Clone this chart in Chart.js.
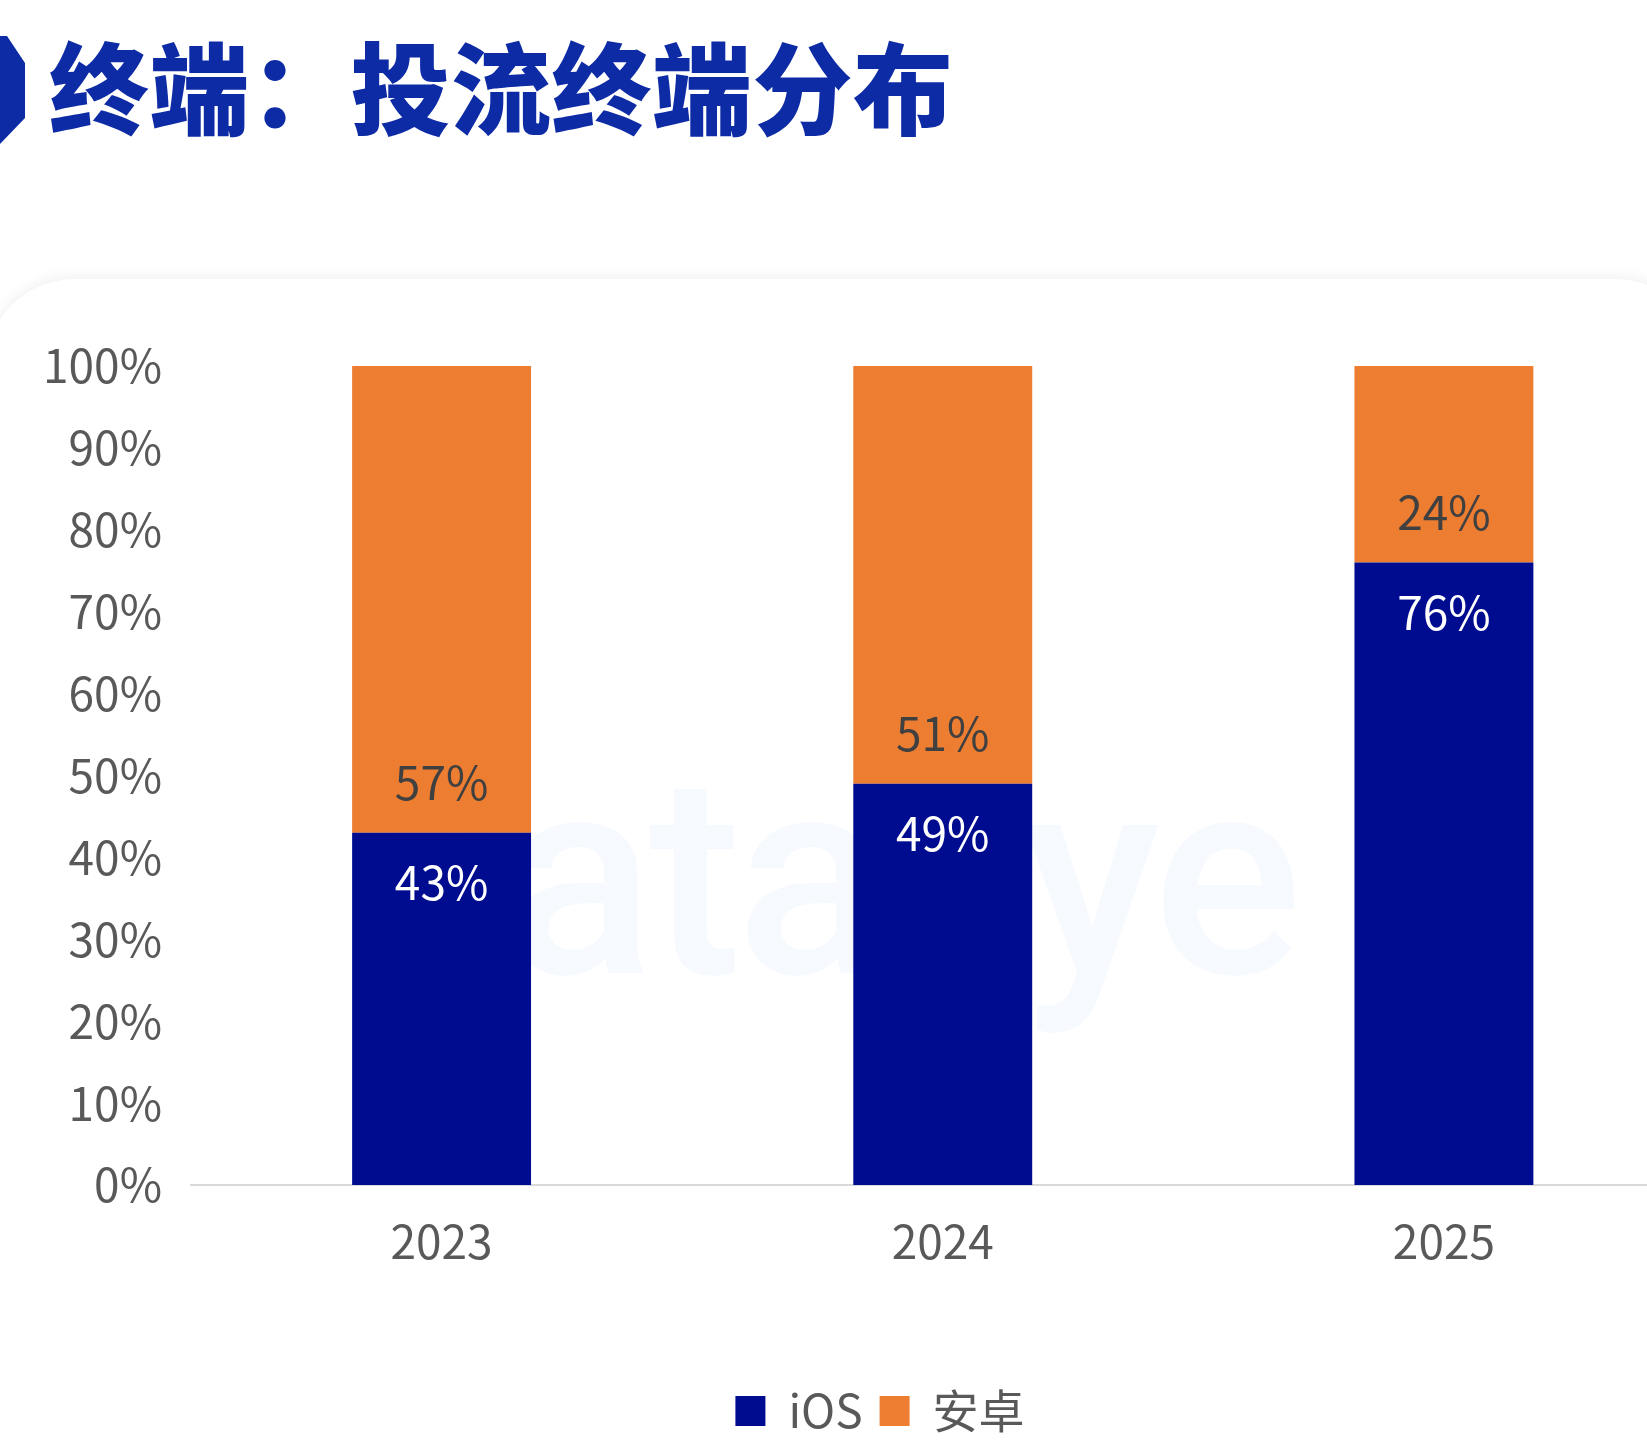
<!DOCTYPE html>
<html lang="zh-CN">
<head>
<meta charset="utf-8">
<title>终端：投流终端分布</title>
<script src="https://cdn.jsdelivr.net/npm/chart.js@4.4.1/dist/chart.umd.min.js"></script>
<style>
  html, body { margin: 0; padding: 0; width: 1647px; height: 1455px; overflow: hidden; background: #fff; }
  .mark { position: absolute; left: 0; top: 36px; width: 25px; height: 108px; background: #0e2ba6;
          clip-path: polygon(0 0, 28% 0, 100% 25%, 100% 76%, 0 100%); }
  .title { position: absolute; left: 49px; top: 34px; margin: 0; white-space: nowrap;
           font: 900 100px/1 'Noto Sans CJK SC', sans-serif; color: #0e2ba6; letter-spacing: 0.5px; }
  .card { position: absolute; left: -15px; top: 279px; width: 1720px; height: 1300px;
          border-radius: 90px; background: #fff; box-shadow: 0 -3px 14px rgba(0,0,0,0.06); }
  .watermark { position: absolute; left: 352px; top: 737px;
               font: 500 280px/1 Roboto, sans-serif; color: #f6f9fd; white-space: nowrap; letter-spacing: -6px; }
  .chart-box { position: absolute; left: 0; top: 279px; width: 1760px; height: 1176px; }
</style>
</head>
<body>
<div class="mark"></div>
<h1 class="title">终端：投流终端分布</h1>
<div class="card"></div>
<div class="watermark">dataeye</div>
<div class="chart-box"><canvas id="terminalChart"></canvas></div>
<script>
// --- データ ---
const years        = ['2023', '2024', '2025'];
const seriesNames  = ['iOS', '安卓'];
const iosShare     = [43, 49, 76];
const androidShare = [57, 51, 24];
const seriesColors = ['#000c8f', '#ed7d31'];
const labelColors  = ['#ffffff', '#404040'];

const Y_MAX  = 100;
const Y_STEP = 10;
const LABEL_GAP = 50;
const FONT = "'Noto Sans CJK SC', sans-serif";

// --- 棒の中にパーセント表示 ---
const barLabels = {
    id: 'barLabels',
    afterDatasetsDraw(chart) {
        const ctx = chart.ctx;
        ctx.save();
        ctx.font = `46px ${FONT}`;
        ctx.textAlign = 'center';
        ctx.textBaseline = 'middle';
        chart.data.datasets.forEach((ds, di) => {
            chart.getDatasetMeta(di).data.forEach((bar, i) => {
                const { x, y, base } = bar.getProps(['x', 'y', 'base'], true);
                // iOS: 上端の内側 / 安卓: 下端の内側
                const ty = di === 0 ? y + LABEL_GAP : base - LABEL_GAP;
                ctx.fillStyle = labelColors[di];
                ctx.fillText(ds.data[i] + '%', x, ty);
            });
        });
        ctx.restore();
    }
};

Chart.defaults.font.family = FONT;
Chart.defaults.color = '#595959';

new Chart(document.getElementById('terminalChart'), {
    type: 'bar',
    data: {
        labels: years,
        datasets: [
            { label: seriesNames[0], data: iosShare,     backgroundColor: seriesColors[0], borderWidth: 0 },
            { label: seriesNames[1], data: androidShare, backgroundColor: seriesColors[1], borderWidth: 0 }
        ]
    },
    options: {
        responsive: true,
        maintainAspectRatio: false,
        animation: false,
        layout: { padding: { top: 87, right: 36, bottom: 11, left: 36 } },
        datasets: { bar: { categoryPercentage: 1, barPercentage: 0.357 } },
        scales: {
            x: {
                stacked: true,
                grid: { display: false },
                border: { display: true, color: '#d9d9d9', width: 2 },
                ticks: { padding: 21, font: { size: 46 }, color: '#595959' },
                afterFit(scale) { scale.height = 186; }
            },
            y: {
                stacked: true,
                min: 0,
                max: Y_MAX,
                grid: { display: false },
                border: { display: false },
                ticks: {
                    stepSize: Y_STEP,
                    padding: 21,
                    font: { size: 46 },
                    color: '#595959',
                    callback: v => v + '%'
                },
                afterFit(scale) { scale.width = 155; }
            },
            // 右側の余白だけ（凡例を中央に寄せるため）
            spacer: {
                position: 'right',
                grid: { display: false },
                border: { display: false },
                ticks: { display: false },
                afterFit(scale) { scale.width = 29.5; }
            }
        },
        plugins: {
            legend: {
                position: 'bottom',
                labels: { boxWidth: 30, boxHeight: 30, padding: 17, font: { size: 46 }, color: '#595959' }
            },
            tooltip: { enabled: false }
        }
    },
    plugins: [barLabels]
});
</script>
</body>
</html>
